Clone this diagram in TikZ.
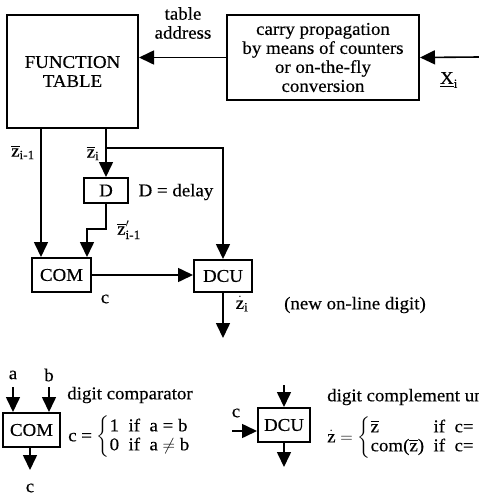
\documentclass[tikz,border=0pt]{standalone}
\usepackage{amsmath}
\usepackage{fontspec}
\setmainfont{Liberation Serif}[FakeStretch=1.05, FakeBold=0.4]
\usetikzlibrary{arrows.meta, positioning}
\tikzstyle{block} = [rectangle, draw=black, line width=2pt, inner sep=0pt,
                     align=center]
\tikzstyle{arrow} = [-{Triangle[length=15pt,width=14pt]}, line width=1.6pt]
\tikzstyle{lbl}   = [inner sep=0pt, align=center]
\newcommand{\zbar}{\overline{\text{z}}}
\newcommand{\zdot}{\dot{\text{z}}}
\newcommand{\idx}[1]{_{\text{#1}}}

\begin{document}
\begin{tikzpicture}[x=1pt, y=-1pt, font=\fontsize{18}{19}\selectfont]
  \useasboundingbox (0,0) rectangle (479,496);

  % Blocks
  \node[block, minimum width=131pt, minimum height=113pt] (ft) at (72.5,71.5)
       {FUNCTION\\TABLE};
  \node[block, minimum width=192pt, minimum height=85pt] (cp) at (323,57.5)
       {carry propagation\\by means of counters\\or on-the-fly\\conversion};
  \node[block, minimum width=44pt, minimum height=25pt] (dly) at (106,190.5) {D};
  \node[block, minimum width=59pt, minimum height=34pt] (com) at (61.5,275) {COM};
  \node[block, minimum width=58pt, minimum height=32pt] (dcu) at (223,276) {DCU};

  % Ports
  \coordinate (xin)  at (479,57);
  \coordinate (cin1) at ([xshift=10pt]com.north west);
  \coordinate (cin2) at ([xshift=-5pt]com.north east);
  \coordinate (br)   at (dly.north |- 0,148);
  \coordinate (zout) at (223,338);

  % Main flow
  \draw[arrow] (xin) -- (cp.east);
  \draw[arrow] (cp.west) -- (cp.west -| ft.east);
  \draw[arrow] (ft.south -| cin1) -- (cin1);
  \draw[arrow] (ft.south -| dly.north) -- (dly.north);
  \draw[arrow] (br) -| (dcu.north);
  \draw[arrow] (dly.south) -- ++(0,25) -| (cin2);
  \draw[arrow] (com.east) -- (com.east -| dcu.west);
  \draw[arrow] (dcu.south) -- (zout);

  % Labels
  \node[lbl] at (183,23) {table\\address};
  \node[lbl] at (449,80) {$\underline{\text{X}}\idx{i}$};
  \node[lbl] at (23,152) {$\zbar\idx{i-1}$};
  \node[lbl] at (93,153) {$\zbar\idx{i}$};
  \node[lbl] at (129,230) {$\zbar'\idx{i-1}$};
  \node[lbl] at (176,192) {D = delay};
  \node[lbl] at (105,299) {c};
  \node[lbl] at (242,304) {$\zdot\idx{i}$};
  \node[lbl] at (355,305) {(new on-line digit)};

  % Legend: comparator
  \node[block, minimum width=57pt, minimum height=34pt] (com2) at (31.5,430) {COM};
  \coordinate (ain)  at (13,387);
  \coordinate (bin)  at (49,387);
  \coordinate (cout) at (30,470);
  \draw[arrow] (ain) -- (ain |- com2.north);
  \draw[arrow] (bin) -- (bin |- com2.north);
  \draw[arrow] (cout |- com2.south) -- (cout);
  \node[lbl] at (13,375) {a};
  \node[lbl] at (49,375) {b};
  \node[lbl] at (30,488) {c};
  \node[lbl] at (130,395) {digit comparator};
  \node[lbl, anchor=west] at (68,437)
       {c = $\left\{\begin{tabular}{@{}l@{\ \ }l@{\ \ }l@{}}1 & if & a = b\\
        0 & if & a $\neq$ b\end{tabular}\right.$};

  % Legend: complement unit
  \node[block, minimum width=52pt, minimum height=34pt] (dcu2) at (284,425) {DCU};
  \coordinate (zin)  at (284,385);
  \coordinate (cin)  at (232,431);
  \coordinate (zout2) at (284,467);
  \draw[arrow] (zin) -- (dcu2.north);
  \draw[arrow] (cin) -- (cin -| dcu2.west);
  \draw[arrow] (dcu2.south) -- (zout2);
  \node[lbl] at (236,413) {c};
  \node[lbl, anchor=west] at (327,397) {digit complement unit};
  \node[lbl, anchor=west] at (327,438)
       {$\zdot = \left\{\begin{tabular}{@{}l@{\ \ }l@{}}$\zbar$ & if\ \ c=\\
        com($\zbar$) & if\ \ c=\end{tabular}\right.$};
\end{tikzpicture}
\end{document}
